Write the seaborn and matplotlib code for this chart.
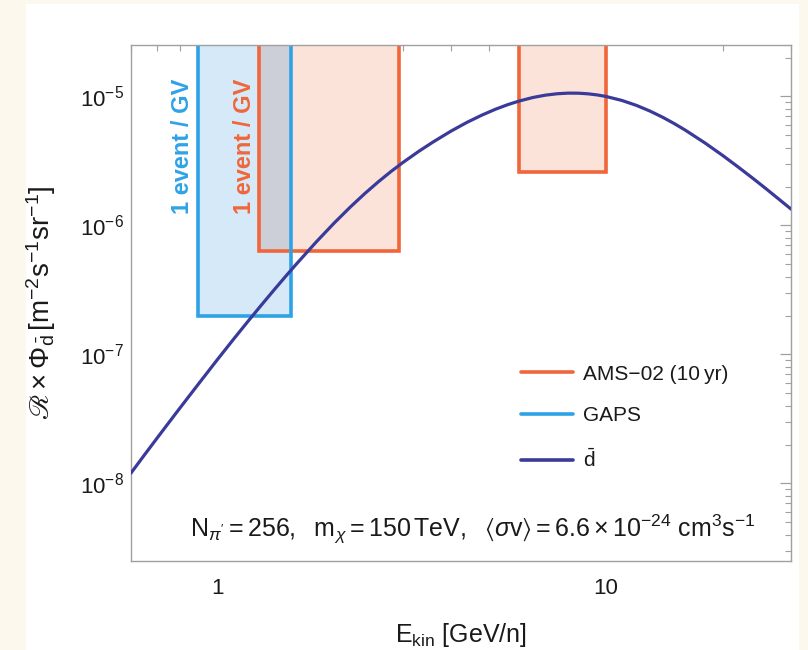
import numpy as np
import pandas as pd
import matplotlib
matplotlib.use("Agg")
import matplotlib.pyplot as plt
import seaborn as sns
from matplotlib.patches import Rectangle
from matplotlib.lines import Line2D
from matplotlib.ticker import FixedLocator, FixedFormatter, LogLocator, NullFormatter

# ---------------- data ----------------
energy = [0.6, 0.65, 0.7, 0.75, 0.8, 0.9, 1.0, 1.1, 1.2, 1.3, 1.4, 1.5, 1.6, 1.8,
          2.0, 2.2, 2.4, 2.6, 2.8, 3.0, 3.3, 3.6, 4.0, 4.4, 4.8, 5.2, 5.6, 6.0,
          6.5, 7.0, 7.5, 8.0, 8.5, 9.0, 9.5, 10.0, 11.0, 12.0, 13.0, 14.0, 15.0,
          16.0, 18.0, 20.0, 22.0, 24.0, 26.0, 28.0, 30.0]
flux = [1.202e-8, 1.663e-8, 2.238e-8, 2.944e-8, 3.80e-8, 6.02e-8, 9.06e-8,
        1.302e-7, 1.801e-7, 2.413e-7, 3.15e-7, 4.02e-7, 5.02e-7, 7.45e-7,
        1.041e-6, 1.384e-6, 1.766e-6, 2.177e-6, 2.61e-6, 3.055e-6, 3.740e-6,
        4.437e-6, 5.378e-6, 6.294e-6, 7.148e-6, 7.936e-6, 8.625e-6, 9.21e-6,
        9.797e-6, 1.0214e-5, 1.047e-5, 1.0588e-5, 1.0578e-5, 1.0462e-5,
        1.026e-5, 9.99e-6, 9.30e-6, 8.51e-6, 7.69e-6, 6.90e-6, 6.16e-6,
        5.49e-6, 4.357e-6, 3.485e-6, 2.813e-6, 2.299e-6, 1.899e-6, 1.584e-6,
        1.337e-6]

gaps_emin = [0.89]
gaps_emax = [1.55]
gaps_sens = [2.0e-7]

ams_emin = [1.28, 6.0]
ams_emax = [2.93, 10.0]
ams_sens = [6.3e-7, 2.6e-6]

xtick_vals = [1, 10]
xtick_labels = ["1", "10"]
ytick_vals = [1e-8, 1e-7, 1e-6, 1e-5]
ytick_labels = [r"$10^{-8}$", r"$10^{-7}$", r"$10^{-6}$", r"$10^{-5}$"]

legend_labels = ["AMS\u221202 (10\u2009yr)", "GAPS", r"$\bar{\mathrm{d}}$"]

# ---------------- style ----------------
sns.set_theme(style="white")
plt.rcParams["font.family"] = ["Liberation Sans", "DejaVu Sans"]
plt.rcParams["mathtext.fontset"] = "custom"
plt.rcParams["mathtext.rm"] = "Liberation Sans"
plt.rcParams["mathtext.it"] = "Liberation Sans:italic"
plt.rcParams["mathtext.bf"] = "Liberation Sans:bold"
plt.rcParams["mathtext.sf"] = "Liberation Sans"
plt.rcParams["mathtext.fallback"] = "stix"

ORANGE = "#F0663A"
BLUE = "#2FA2E6"
CURVE = "#3A3A9A"
GAPS_FILL = "#D6E9F8"
AMS_FILL = "#FCE3DA"
OVERLAP_FILL = "#CDCFD8"
CREAM = "#FDF8EE"
FRAME = "#A0A0A0"
TXT = "#1a1a1a"

fig = plt.figure(figsize=(8.08, 6.5), dpi=100, facecolor=CREAM)
fig.patches.append(Rectangle((26 / 808, 0), (799 - 26) / 808, (650 - 4) / 650,
                             transform=fig.transFigure, facecolor="white",
                             edgecolor="none", zorder=-10))
ax = fig.add_axes([131 / 808, (650 - 561) / 650, 660 / 808, 516 / 650])
ax.set_zorder(1)
ax.set_facecolor("white")
ax.set_xscale("log")
ax.set_yscale("log")
ax.set_xlim(0.6, 30)
ax.set_ylim(2.5e-9, 2.5e-5)

box_top = 1e-3  # boxes extend beyond the top of the frame

# fills
for x0, x1, y0 in zip(gaps_emin, gaps_emax, gaps_sens):
    ax.add_patch(Rectangle((x0, y0), x1 - x0, box_top - y0, facecolor=GAPS_FILL,
                           edgecolor="none", zorder=1))
for x0, x1, y0 in zip(ams_emin, ams_emax, ams_sens):
    ax.add_patch(Rectangle((x0, y0), x1 - x0, box_top - y0, facecolor=AMS_FILL,
                           edgecolor="none", zorder=1.1))
# overlap of GAPS and AMS boxes (derived from the data)
for gx0, gx1, gy0 in zip(gaps_emin, gaps_emax, gaps_sens):
    for ax0, ax1, ay0 in zip(ams_emin, ams_emax, ams_sens):
        ox0, ox1 = max(gx0, ax0), min(gx1, ax1)
        if ox1 > ox0:
            oy0 = max(gy0, ay0)
            ax.add_patch(Rectangle((ox0, oy0), ox1 - ox0, box_top - oy0,
                                   facecolor=OVERLAP_FILL, edgecolor="none",
                                   zorder=1.2))
# edges
for x0, x1, y0 in zip(ams_emin, ams_emax, ams_sens):
    ax.plot([x0, x0, x1, x1], [box_top, y0, y0, box_top], color=ORANGE, lw=2.6,
            zorder=2, solid_joinstyle="miter")
for x0, x1, y0 in zip(gaps_emin, gaps_emax, gaps_sens):
    ax.plot([x0, x0, x1, x1], [box_top, y0, y0, box_top], color=BLUE, lw=2.6,
            zorder=2.1, solid_joinstyle="miter")

# curve
df = pd.DataFrame({"E": energy, "flux": flux})
sns.lineplot(data=df, x="E", y="flux", ax=ax, color=CURVE, lw=2.3, zorder=3,
             estimator=None, sort=True)

# rotated labels
ax.text(0.813, 0.804, "1 event / GV", rotation=90, color=BLUE, fontweight="bold",
        fontsize=17, ha="center", va="center",
        transform=ax.get_xaxis_transform(), zorder=4)
ax.text(1.173, 0.804, "1 event / GV", rotation=90, color=ORANGE, fontweight="bold",
        fontsize=17, ha="center", va="center",
        transform=ax.get_xaxis_transform(), zorder=4)

# annotation
ax.text(0.518, 0.062,
        r"$\mathrm{N}_{\pi^{\prime}} = 256,\ \ \mathrm{m}_{\chi} = 150\,\mathrm{TeV},\ \ "
        r"\langle \sigma \mathrm{v} \rangle = 6.6 \times 10^{-24}\ \mathrm{cm}^{3}\mathrm{s}^{-1}$",
        transform=ax.transAxes, ha="center", va="center", fontsize=18, color=TXT)

# legend
handles = [Line2D([], [], color=ORANGE, lw=2.6),
           Line2D([], [], color=BLUE, lw=2.6),
           Line2D([], [], color=CURVE, lw=2.6)]
ax.legend(handles, legend_labels, loc="upper left", bbox_to_anchor=(0.562, 0.417),
          frameon=False, fontsize=15, handlelength=2.5, handletextpad=0.5,
          labelspacing=1.1, borderpad=0.4, labelcolor=TXT)

# ticks
ax.xaxis.set_major_locator(FixedLocator(xtick_vals))
ax.xaxis.set_major_formatter(FixedFormatter(xtick_labels))
ax.xaxis.set_minor_locator(LogLocator(base=10, subs=np.arange(2, 10), numticks=20))
ax.xaxis.set_minor_formatter(NullFormatter())
ax.yaxis.set_major_locator(FixedLocator(ytick_vals))
ax.yaxis.set_major_formatter(FixedFormatter(ytick_labels))
ax.yaxis.set_minor_locator(LogLocator(base=10, subs=np.arange(2, 10), numticks=20))
ax.yaxis.set_minor_formatter(NullFormatter())

ax.tick_params(which="both", direction="in", top=True, right=True, colors=FRAME,
               labelcolor=TXT)
ax.tick_params(which="major", length=8, width=0.9, labelsize=16)
ax.tick_params(which="minor", length=4, width=0.8)
ax.tick_params(axis="x", which="major", pad=12)
ax.tick_params(axis="y", which="major", pad=5)
for s in ax.spines.values():
    s.set_color(FRAME)
    s.set_linewidth(1.0)
    s.set_visible(True)

ax.set_xlabel(r"$\mathrm{E}_{\mathrm{kin}}$ [GeV/n]", fontsize=18, color=TXT, labelpad=16)
ax.set_ylabel(r"$ℛ \times \Phi_{\bar{\mathrm{d}}}\,[\mathrm{m}^{-2}\mathrm{s}^{-1}\mathrm{sr}^{-1}]$",
              fontsize=20, color=TXT, labelpad=16)

fig.savefig("out.png", dpi=100, facecolor=CREAM)
